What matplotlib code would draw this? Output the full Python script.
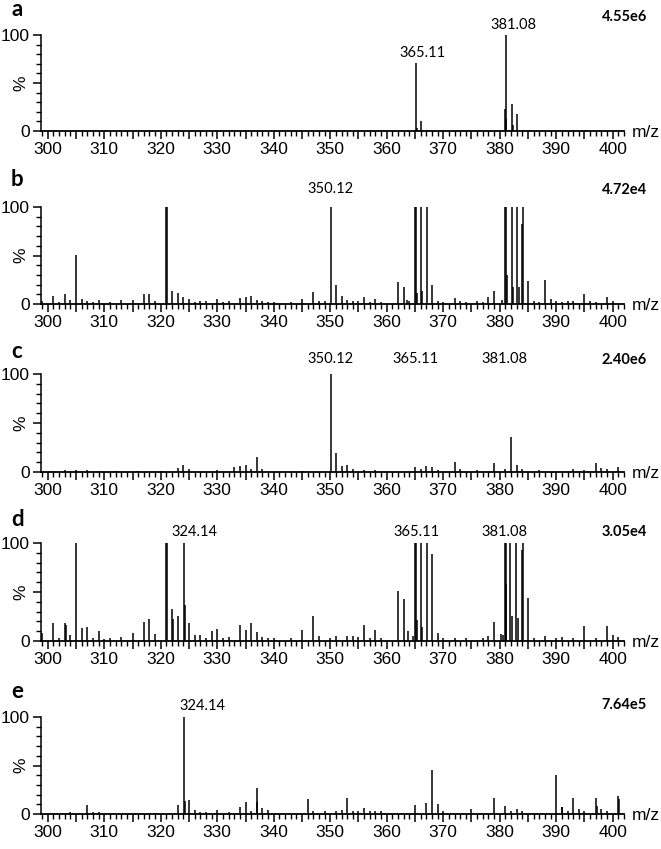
import numpy as np
import matplotlib.pyplot as plt
from matplotlib.ticker import MultipleLocator, FixedLocator, FuncFormatter

# ---- data: peak m/z and relative intensity (%) ----
mz_a = [321.0, 365.1, 365.3, 366.1, 367.1, 380.98, 381.08, 381.2, 382.1, 382.3, 383.1, 384.1]
int_a = [1, 71, 3, 10, 1, 23, 100, 13, 28, 6, 18, 1]

mz_b = [299, 301, 302, 303, 304, 305, 306, 307, 308, 309, 311, 313, 315, 317, 318, 319, 320.95,
        321.1, 322, 323, 324, 325, 326, 327, 328, 330, 331, 332, 334, 335, 336, 337, 338, 339,
        340, 343, 345, 347, 348, 349, 350.12, 351, 352, 353, 354, 355, 356, 357, 358, 359,
        362, 363, 363.6, 364, 365.0, 365.1, 365.4, 366.1, 366.3, 367.1, 368.1, 369, 370, 372,
        373, 374, 376, 377, 378, 379, 380.4, 381.0, 381.1, 381.3, 382.1, 382.4, 383.1, 383.4,
        384.0, 384.1, 385, 386, 387, 388, 389, 390, 391, 392, 393, 395, 396, 397, 399, 400]
int_b = [3, 8, 2, 10, 4, 51, 5, 3, 2, 4, 2, 4, 4, 10, 10, 3, 100,
         100, 13, 11, 7, 5, 2, 3, 3, 5, 2, 3, 6, 7, 8, 4, 3, 2,
         2, 2, 5, 12, 3, 3, 100, 20, 8, 4, 3, 3, 7, 2, 5, 2,
         23, 18, 4, 3, 100, 100, 11, 100, 13, 100, 20, 3, 2, 6,
         3, 2, 3, 2, 7, 13, 4, 100, 100, 30, 100, 18, 100, 18,
         82, 100, 24, 3, 2, 25, 5, 3, 2, 3, 3, 10, 3, 2, 7, 3]

mz_c = [301, 303, 305, 307, 309, 312, 316, 320, 323, 324, 325, 330, 333, 334, 335, 336, 337,
        338, 345, 350.12, 351, 352, 353, 354, 356, 358, 365, 366, 367, 368, 369, 372, 373, 376,
        379, 381, 382, 383, 384, 387, 393, 395, 397, 398, 399, 401]
int_c = [1, 2, 2, 2, 1, 1, 1, 1, 4, 7, 3, 2, 5, 6, 7, 3, 15,
         3, 1, 100, 19, 6, 7, 3, 2, 2, 5, 3, 6, 5, 2, 10, 3, 2,
         9, 3, 36, 7, 3, 2, 3, 2, 9, 4, 3, 5]

mz_d = [299, 301, 302, 303, 303.2, 304, 305, 306, 307, 308, 309, 310, 311, 313, 315, 317, 318,
        319, 320.95, 321.1, 322, 322.1, 323, 324.14, 324.3, 325, 326, 327, 328, 329, 330, 331,
        332, 334, 335, 336, 337, 338, 339, 340, 343, 345, 347, 348, 350, 351, 353, 354, 355,
        356, 357, 358, 359, 362, 363, 363.7, 364.6, 365.0, 365.1, 365.4, 366.1, 366.3, 367.1,
        368.1, 369, 370, 372, 374, 377, 378, 379, 380.2, 380.6, 381.0, 381.1, 381.2, 381.8,
        382.2, 382.9, 383.2, 383.9, 384.1, 385, 386, 388, 390, 391, 393, 395, 397, 399, 400,
        401]
int_d = [8, 18, 3, 18, 16, 6, 100, 13, 14, 3, 10, 2, 3, 4, 8, 19, 22,
         7, 100, 100, 33, 22, 26, 100, 37, 18, 6, 6, 3, 10, 12, 3,
         4, 16, 11, 18, 9, 4, 3, 3, 3, 11, 26, 5, 3, 5, 5, 5, 4,
         16, 3, 11, 3, 51, 43, 10, 5, 100, 100, 21, 100, 14, 100,
         89, 8, 3, 3, 3, 3, 5, 19, 7, 6, 100, 100, 58, 100,
         26, 100, 23, 93, 100, 44, 3, 5, 3, 4, 3, 15, 3, 15, 6,
         4]

mz_e = [304, 307, 308, 309, 319, 323, 324.14, 324.3, 325, 326, 327, 328, 330, 332, 334, 335,
        336, 337, 337.1, 338, 339, 346, 347, 349, 351, 352, 353, 354, 355, 356, 357, 358,
        359, 365, 367, 368, 369, 370, 375, 379, 381, 382, 383, 384, 390, 391, 391.1, 392,
        393, 394, 395, 397, 397.2, 398, 399, 401, 401.2]
int_e = [2, 9, 2, 2, 1, 9, 100, 13, 14, 4, 2, 2, 4, 2, 7, 12,
         3, 12, 27, 6, 4, 15, 3, 3, 3, 4, 16, 3, 3, 6, 3, 3,
         3, 9, 11, 45, 10, 3, 5, 16, 8, 3, 5, 3, 40, 7, 7, 3,
         16, 5, 3, 17, 8, 5, 3, 19, 15]

scales = ["4.55e6", "4.72e4", "2.40e6", "3.05e4", "7.64e5"]
letters = ["a", "b", "c", "d", "e"]
# peak annotations: (text, x, y)
labels = [
    [("365.11", 366.4, 74), ("381.08", 382.4, 103)],
    [("350.12", 350.1, 111)],
    [("350.12", 350.1, 108), ("365.11", 365.1, 108), ("381.08", 380.9, 108)],
    [("324.14", 325.9, 104), ("365.11", 365.2, 104), ("381.08", 380.9, 104)],
    [("324.14", 327.4, 104)],
]

spectra = [(mz_a, int_a), (mz_b, int_b), (mz_c, int_c), (mz_d, int_d), (mz_e, int_e)]

# ---- layout in pixels ----
W, H = 661, 849
tops = [35, 207, 374, 543, 717]
bottoms = [131, 304, 472, 641, 814]
letter_y = [9, 179, 351, 520, 691]
scale_y = [17, 190, 360, 532, 705]
x_left, x_right = 41, 624

fig = plt.figure(figsize=(W / 100, H / 100), dpi=100)
tickfont = "Liberation Sans"
lblfont = "Lato"

for i, (mz, inten) in enumerate(spectra):
    ax = fig.add_axes([x_left / W, 1 - bottoms[i] / H, (x_right - x_left) / W,
                       (bottoms[i] - tops[i]) / H])
    ax.vlines(mz, 0, inten, color="black", lw=1.1, clip_on=False)
    ax.set_xlim(298.8, 402)
    ax.set_ylim(0, 100)
    for s in ["top", "right"]:
        ax.spines[s].set_visible(False)
    ax.spines["left"].set_linewidth(1.1)
    ax.spines["bottom"].set_linewidth(1.3)

    ax.xaxis.set_major_locator(MultipleLocator(5))
    ax.xaxis.set_minor_locator(MultipleLocator(1))
    ax.xaxis.set_major_formatter(FuncFormatter(
        lambda v, p: "%d" % round(v) if round(v) % 10 == 0 and 300 <= v <= 400 else ""))
    ax.yaxis.set_major_locator(FixedLocator([0, 50, 100]))
    ax.yaxis.set_minor_locator(MultipleLocator(10))
    ax.yaxis.set_major_formatter(FuncFormatter(
        lambda v, p: "%d" % v if v in (0, 100) else ""))
    ax.tick_params(which="major", length=6, width=1.1, direction="out", pad=2)
    ax.tick_params(which="minor", length=3.5, width=1, direction="out")
    for t in ax.get_xticklabels() + ax.get_yticklabels():
        t.set_fontfamily(tickfont)
        t.set_fontsize(12.5)

    ax.text(-0.035, 0.5, "%", transform=ax.transAxes, rotation=90, ha="center",
            va="center", fontsize=12.5, family=tickfont)
    ax.text(403.3, -2, "m/z", ha="left", va="center", fontsize=12.5, family=tickfont,
            clip_on=False)
    for txt, x, y in labels[i]:
        ax.text(x, y, txt, ha="center", va="bottom", fontsize=10.5, family=lblfont,
                clip_on=False)

    fig.text(11 / W, 1 - letter_y[i] / H, letters[i], fontsize=16, weight="bold",
             family=lblfont, ha="left", va="center")
    fig.text(647 / W, 1 - scale_y[i] / H, scales[i], fontsize=10.5, weight="bold",
             family=lblfont, ha="right", va="center")

fig.savefig("out.png", dpi=100, facecolor="white")
